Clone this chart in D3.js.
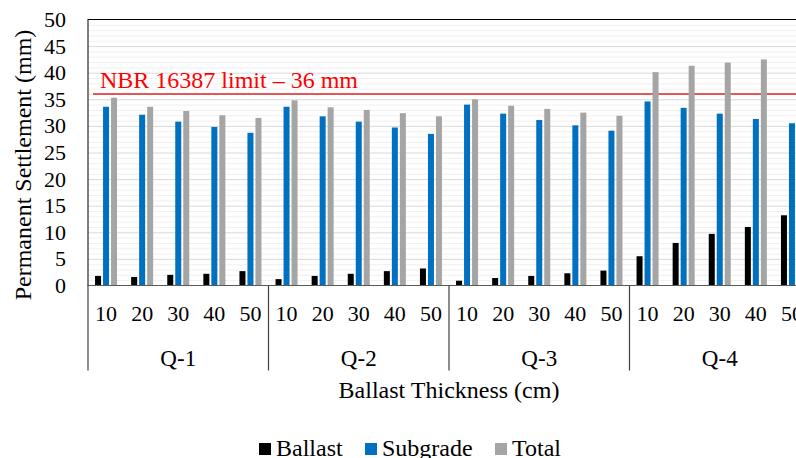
<!DOCTYPE html>
<html>
<head>
<meta charset="utf-8">
<script src="https://cdn.jsdelivr.net/npm/d3@7"></script>
<style>
  body { margin: 0; background: #fff; overflow: hidden; }
  svg text { font-family: "Liberation Serif", "Times New Roman", serif; }
</style>
</head>
<body>
<svg id="chart" width="796" height="458"></svg>
<script>
// data
const groups = ["Q-1", "Q-2", "Q-3", "Q-4"];
const thickness = ["10", "20", "30", "40", "50"];
const seriesNames = ["Ballast", "Subgrade", "Total"];
const seriesColors = ["#000000", "#0070c0", "#a5a5a5"];

const ballast = [1.8, 1.6, 2.0, 2.2, 2.7,
                 1.2, 1.8, 2.2, 2.7, 3.2,
                 0.9, 1.4, 1.8, 2.3, 2.8,
                 5.5, 8.0, 9.7, 11.0, 13.2];
const subgrade = [33.6, 32.1, 30.8, 29.8, 28.7,
                  33.6, 31.8, 30.8, 29.7, 28.5,
                  34.0, 32.3, 31.1, 30.1, 29.1,
                  34.6, 33.4, 32.3, 31.3, 30.5];
const total = [35.3, 33.6, 32.8, 32.0, 31.5,
               34.8, 33.5, 33.0, 32.4, 31.8,
               35.0, 33.8, 33.2, 32.5, 31.9,
               40.1, 41.3, 41.9, 42.5, 43.7];
const limitValue = 36;
const yTicks = [0, 5, 10, 15, 20, 25, 30, 35, 40, 45, 50];

const FONT = "Liberation Serif";
const svg = d3.select("#chart");
const margin = { top: 19.5, left: 88 };
const width = 722;   // plot runs past the right edge of the picture
const height = 266;

const cats = [];
groups.forEach(g => thickness.forEach(t => cats.push(g + "|" + t)));
const values = [ballast, subgrade, total];

const x = d3.scaleBand().domain(cats).range([0, width]);
const inner = d3.scaleBand().domain(seriesNames).range([-11, 11]).paddingInner(0.25);
const y = d3.scaleLinear().domain([0, 50]).range([height, 0]);

const g = svg.append("g")
  .attr("transform", `translate(${margin.left},${margin.top})`);

// minor + major grid
g.append("g").selectAll("line")
  .data(d3.range(0, 51, 1).filter(v => v % 5 !== 0))
  .join("line")
  .attr("x1", 0).attr("x2", width)
  .attr("y1", d => y(d) + 0.5).attr("y2", d => y(d) + 0.5)
  .attr("stroke", "#f0f0f0").attr("stroke-width", 1);
g.append("g").selectAll("line")
  .data(yTicks.slice(1, -1))
  .join("line")
  .attr("x1", 0).attr("x2", width)
  .attr("y1", d => y(d) + 0.5).attr("y2", d => y(d) + 0.5)
  .attr("stroke", "#d9d9d9").attr("stroke-width", 1);

// plot frame (top + left)
g.append("rect")
  .attr("x", 0).attr("y", 0)
  .attr("width", width).attr("height", height)
  .attr("fill", "none").attr("stroke", "#000").attr("stroke-width", 1);

// limit line
g.append("line")
  .attr("x1", 5).attr("x2", width)
  .attr("y1", y(limitValue)).attr("y2", y(limitValue))
  .attr("stroke", "#e02020").attr("stroke-width", 1.5);
g.append("text")
  .attr("x", 12).attr("y", y(limitValue) - 6)
  .attr("fill", "#ff0000")
  .style("font-family", FONT)
  .style("font-size", "24px")
  .text("NBR 16387 limit \u2013 36 mm");

// bars
seriesNames.forEach((s, si) => {
  g.append("g").selectAll("rect")
    .data(cats.map((c, i) => ({ c, v: values[si][i] })))
    .join("rect")
    .attr("x", d => x(d.c) + x.bandwidth() / 2 + inner(s))
    .attr("width", inner.bandwidth())
    .attr("y", d => y(d.v))
    .attr("height", d => y(0) - y(d.v))
    .attr("fill", seriesColors[si]);
});

// x axis baseline
g.append("line")
  .attr("x1", 0).attr("x2", width)
  .attr("y1", height).attr("y2", height)
  .attr("stroke", "#595959").attr("stroke-width", 1.2);

// y axis labels
const yAxis = g.append("g")
  .call(d3.axisLeft(y).tickValues(yTicks).tickSize(0).tickPadding(22));
yAxis.select(".domain").remove();
yAxis.selectAll("text")
  .style("font-family", FONT)
  .style("font-size", "22px")
  .attr("fill", "#000");

// x labels: thickness
const xAxis = g.append("g")
  .attr("transform", `translate(0,${height})`)
  .call(d3.axisBottom(x).tickSize(0).tickPadding(20).tickFormat(d => d.split("|")[1]));
xAxis.select(".domain").remove();
xAxis.selectAll("text")
  .style("font-family", FONT)
  .style("font-size", "22px")
  .attr("fill", "#000");

// group separators + group labels
const groupW = x.step() * thickness.length;
g.append("g").selectAll("line")
  .data(d3.range(groups.length + 1))
  .join("line")
  .attr("x1", d => d * groupW).attr("x2", d => d * groupW)
  .attr("y1", height).attr("y2", height + 85)
  .attr("stroke", "#404040").attr("stroke-width", 1.2);
g.append("g").selectAll("text")
  .data(groups)
  .join("text")
  .attr("x", (d, i) => (i + 0.5) * groupW)
  .attr("y", height + 80)
  .attr("text-anchor", "middle")
  .style("font-family", FONT)
  .style("font-size", "23px")
  .text(d => d);

// axis titles
g.append("text")
  .attr("x", width / 2).attr("y", height + 112)
  .attr("text-anchor", "middle")
  .style("font-family", FONT)
  .style("font-size", "24px")
  .text("Ballast Thickness (cm)");
svg.append("text")
  .attr("transform", "translate(31,165) rotate(-90)")
  .attr("text-anchor", "middle")
  .style("font-family", FONT)
  .style("font-size", "24px")
  .text("Permanent Settlement (mm)");

// legend
const legendX = [259, 365, 495];
const legend = svg.append("g").attr("transform", "translate(0,449)");
seriesNames.forEach((s, i) => {
  legend.append("rect")
    .attr("x", legendX[i]).attr("y", -6)
    .attr("width", 12).attr("height", 12)
    .attr("fill", seriesColors[i]);
  legend.append("text")
    .attr("x", legendX[i] + 17).attr("y", 7)
    .style("font-family", FONT)
    .style("font-size", "24px")
    .text(s);
});
</script>
</body>
</html>
